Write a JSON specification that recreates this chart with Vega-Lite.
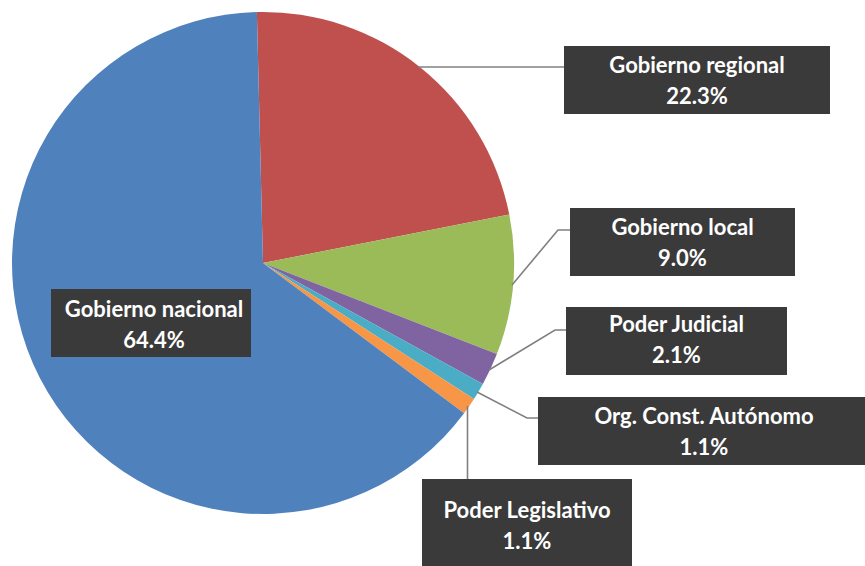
{
  "$schema": "https://vega.github.io/schema/vega-lite/v6.json",
  "width": 865,
  "height": 566,
  "padding": 0,
  "autosize": {"type": "fit", "contains": "padding"},
  "background": "#ffffff",
  "config": {"view": {"stroke": null}},
  "datasets": {
    "pie": [
      {"category": "Gobierno regional", "value": 22.3, "ord": 1},
      {"category": "Gobierno local", "value": 9.0, "ord": 2},
      {"category": "Poder Judicial", "value": 2.1, "ord": 3},
      {"category": "Org. Const. Autónomo", "value": 1.1, "ord": 4},
      {"category": "Poder Legislativo", "value": 1.1, "ord": 5},
      {"category": "Gobierno nacional", "value": 64.4, "ord": 6}
    ],
    "labels": [
      {"category": "Gobierno regional", "value": 22.3, "bx1": 564, "bx2": 830, "by1": 46, "by2": 114, "tx": 697, "ty": 81.5},
      {"category": "Gobierno local", "value": 9.0, "bx1": 570, "bx2": 795, "by1": 208, "by2": 276, "tx": 682.5, "ty": 243},
      {"category": "Poder Judicial", "value": 2.1, "bx1": 566, "bx2": 787, "by1": 307, "by2": 375, "tx": 676.5, "ty": 340.5},
      {"category": "Org. Const. Autónomo", "value": 1.1, "bx1": 538, "bx2": 865, "by1": 397, "by2": 465, "tx": 704, "ty": 432},
      {"category": "Poder Legislativo", "value": 1.1, "bx1": 422, "bx2": 632, "by1": 479, "by2": 566, "tx": 527, "ty": 526},
      {"category": "Gobierno nacional", "value": 64.4, "bx1": 51, "bx2": 251, "by1": 289, "by2": 357, "tx": 154, "ty": 325}
    ],
    "leaders": [
      {"category": "Gobierno regional", "seq": 1, "px": 418, "py": 67},
      {"category": "Gobierno regional", "seq": 2, "px": 565, "py": 67},
      {"category": "Gobierno local", "seq": 1, "px": 512, "py": 285},
      {"category": "Gobierno local", "seq": 2, "px": 558, "py": 230},
      {"category": "Gobierno local", "seq": 3, "px": 571, "py": 230},
      {"category": "Poder Judicial", "seq": 1, "px": 489, "py": 370},
      {"category": "Poder Judicial", "seq": 2, "px": 555, "py": 330},
      {"category": "Poder Judicial", "seq": 3, "px": 567, "py": 330},
      {"category": "Org. Const. Autónomo", "seq": 1, "px": 477, "py": 392},
      {"category": "Org. Const. Autónomo", "seq": 2, "px": 527, "py": 418},
      {"category": "Org. Const. Autónomo", "seq": 3, "px": 539, "py": 418},
      {"category": "Poder Legislativo", "seq": 1, "px": 467.5, "py": 406},
      {"category": "Poder Legislativo", "seq": 2, "px": 467.5, "py": 480}
    ]
  },
  "encoding": {
    "x": {"type": "quantitative", "scale": {"domain": [0, 865], "nice": false, "zero": false}, "axis": null},
    "y": {"type": "quantitative", "scale": {"domain": [0, 566], "nice": false, "zero": false, "reverse": true}, "axis": null}
  },
  "layer": [
    {
      "data": {"name": "pie"},
      "mark": {"type": "arc", "outerRadius": 251},
      "encoding": {
        "x": {"datum": 263, "type": "quantitative", "scale": {"domain": [0, 865], "nice": false, "zero": false}, "axis": null},
        "y": {"datum": 263, "type": "quantitative", "scale": {"domain": [0, 566], "nice": false, "zero": false, "reverse": true}, "axis": null},
        "theta": {"field": "value", "type": "quantitative", "stack": true, "scale": {"range": [-0.0244, 6.2588]}},
        "order": {"field": "ord", "type": "quantitative"},
        "color": {
          "field": "category", "type": "nominal", "legend": null,
          "scale": {
            "domain": ["Gobierno regional", "Gobierno local", "Poder Judicial", "Org. Const. Autónomo", "Poder Legislativo", "Gobierno nacional"],
            "range": ["#C0504D", "#9BBB59", "#8064A2", "#4BACC6", "#F79646", "#4F81BD"]
          }
        }
      }
    },
    {
      "data": {"name": "leaders"},
      "mark": {"type": "line", "color": "#808080", "strokeWidth": 1.6},
      "encoding": {
        "x": {"field": "px", "type": "quantitative"},
        "y": {"field": "py", "type": "quantitative"},
        "detail": {"field": "category"},
        "order": {"field": "seq", "type": "quantitative"}
      }
    },
    {
      "data": {"name": "labels"},
      "mark": {"type": "rect", "fill": "#000000", "opacity": 0.16, "xOffset": 4, "yOffset": 5},
      "encoding": {
        "x": {"field": "bx1", "type": "quantitative"},
        "x2": {"field": "bx2"},
        "y": {"field": "by1", "type": "quantitative"},
        "y2": {"field": "by2"}
      }
    },
    {
      "data": {"name": "labels"},
      "mark": {"type": "rect", "fill": "#000000", "opacity": 0.14, "xOffset": 2, "yOffset": 3},
      "encoding": {
        "x": {"field": "bx1", "type": "quantitative"},
        "x2": {"field": "bx2"},
        "y": {"field": "by1", "type": "quantitative"},
        "y2": {"field": "by2"}
      }
    },
    {
      "data": {"name": "labels"},
      "mark": {"type": "rect", "fill": "#3A3A3A"},
      "encoding": {
        "x": {"field": "bx1", "type": "quantitative"},
        "x2": {"field": "bx2"},
        "y": {"field": "by1", "type": "quantitative"},
        "y2": {"field": "by2"}
      }
    },
    {
      "data": {"name": "labels"},
      "mark": {"type": "text", "color": "#ffffff", "font": "Lato", "fontWeight": "bold", "fontSize": 22, "align": "center", "baseline": "middle", "dy": -15.5},
      "encoding": {
        "x": {"field": "tx", "type": "quantitative"},
        "y": {"field": "ty", "type": "quantitative"},
        "text": {"field": "category"}
      }
    },
    {
      "data": {"name": "labels"},
      "transform": [{"calculate": "format(datum.value, '.1f') + '%'", "as": "pct"}],
      "mark": {"type": "text", "color": "#ffffff", "font": "Lato", "fontWeight": "bold", "fontSize": 22, "align": "center", "baseline": "middle", "dy": 15.5},
      "encoding": {
        "x": {"field": "tx", "type": "quantitative"},
        "y": {"field": "ty", "type": "quantitative"},
        "text": {"field": "pct"}
      }
    }
  ]
}
